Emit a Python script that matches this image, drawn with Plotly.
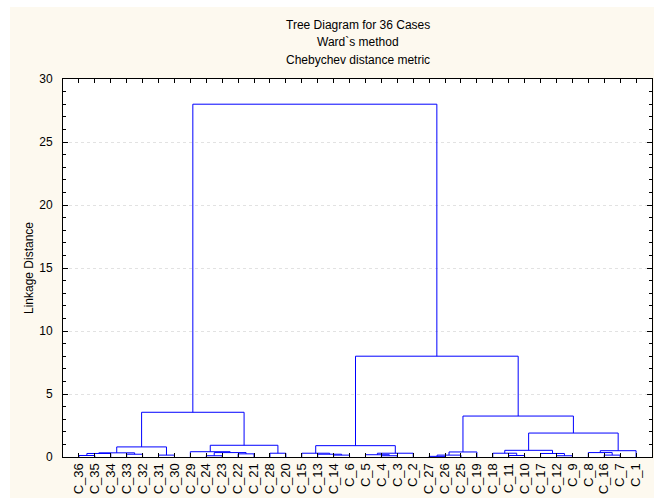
import plotly.graph_objects as go

labels = ["C_36", "C_35", "C_34", "C_33", "C_32", "C_31", "C_30", "C_29", "C_24",
          "C_23", "C_22", "C_21", "C_28", "C_20", "C_15", "C_13", "C_14", "C_6",
          "C_5", "C_4", "C_3", "C_2", "C_27", "C_26", "C_25", "C_19", "C_18",
          "C_11", "C_10", "C_17", "C_12", "C_9", "C_8", "C_16", "C_7", "C_1"]

# linkage: leaves are 0..35 (in display order), merged nodes numbered from 36
merge_left = [0, 36, 3, 37, 5, 39, 8, 10, 42, 7, 12, 45, 41,
              16, 15, 14, 19, 18, 53, 51,
              22, 56, 57, 27, 26, 30, 29, 60, 33, 32, 65, 63, 58, 55, 48]
merge_right = [1, 2, 4, 38, 6, 40, 9, 11, 43, 44, 13, 46, 47,
               17, 49, 50, 20, 52, 21, 54,
               23, 24, 25, 28, 59, 31, 61, 62, 34, 64, 35, 66, 67, 68, 69]
merge_height = [0.12, 0.28, 0.22, 0.33, 0.15, 0.80, 0.10, 0.25, 0.35, 0.42, 0.30, 0.93, 3.55,
                0.15, 0.22, 0.30, 0.10, 0.18, 0.30, 0.90,
                0.05, 0.15, 0.40, 0.12, 0.30, 0.10, 0.28, 0.53, 0.15, 0.35, 0.50, 1.90, 3.25, 8.0, 28.0]

titles = ["Tree Diagram for 36 Cases", "Ward`s method", "Chebychev distance metric"]
y_title = "Linkage Distance"

n = len(labels)
xpos = {i: i + 1 for i in range(n)}
ypos = {i: 0.0 for i in range(n)}
xs, ys = [], []
for k, (a, b, h) in enumerate(zip(merge_left, merge_right, merge_height)):
    node = n + k
    xa, xb = xpos[a], xpos[b]
    ya, yb = ypos[a], ypos[b]
    xs += [xa, xa, xb, xb, None]
    ys += [ya, h, h, yb, None]
    xpos[node] = (xa + xb) / 2
    ypos[node] = h

fig = go.Figure()
fig.add_trace(go.Scatter(x=xs, y=ys, mode="lines",
                         line=dict(color="#0000FF", width=1),
                         hoverinfo="skip", showlegend=False))

W, H = 654, 498
L, R, T, B = 63, 2, 79, 41
pw, ph = W - L - R, H - T - B

font = "Liberation Sans, Arial, sans-serif"

fig.update_layout(
    width=W, height=H, autosize=False,
    margin=dict(l=L, r=R, t=T, b=B, pad=0, autoexpand=False),
    paper_bgcolor="#FDF9EF",
    plot_bgcolor="white",
    font=dict(family=font, size=12, color="black"),
    xaxis=dict(range=[0, 37], tickmode="array", automargin=False,
               tickvals=list(range(1, n + 1)), ticktext=labels,
               tickangle=-90, ticks="inside", ticklen=4, tickcolor="black",
               showline=True, linecolor="black", linewidth=1, mirror="ticks",
               showgrid=False, zeroline=False, fixedrange=True,
               tickfont=dict(size=13, family=font)),
    yaxis=dict(range=[0, 30], tickmode="linear", tick0=0, dtick=5, automargin=False,
               ticks="inside", ticklen=5, tickcolor="black", ticklabelstandoff=7,
               minor=dict(ticks="inside", ticklen=3, dtick=1, tickcolor="black", showgrid=False),
               showline=True, linecolor="black", linewidth=1, mirror="ticks",
               showgrid=True, gridcolor="#E2E2E2", griddash="dot", gridwidth=1,
               zeroline=False, fixedrange=True,
               title=dict(text=y_title, font=dict(size=12, family=font), standoff=3),
               tickfont=dict(size=12, family=font)),
)

# white strip of the surrounding page (top and left edges)
fig.add_shape(type="rect", xref="paper", yref="paper",
              x0=-L / pw, x1=1 + R / pw, y0=1 + (T - 7) / ph, y1=1 + T / ph,
              fillcolor="white", line=dict(width=0), layer="above")
fig.add_shape(type="rect", xref="paper", yref="paper",
              x0=-L / pw, x1=-(L - 10) / pw, y0=-B / ph, y1=1 + T / ph,
              fillcolor="white", line=dict(width=0), layer="above")

title_y = [25, 42, 60]
for t, py in zip(titles, title_y):
    fig.add_annotation(text=t, xref="paper", yref="paper", x=0.5,
                       y=1 + (T - py) / ph, xanchor="center", yanchor="middle",
                       showarrow=False, font=dict(size=12, family=font, color="black"))

fig.write_html("out.html", config={"displayModeBar": False},
               post_script="document.body.style.margin='0';document.body.style.overflow='hidden';")
